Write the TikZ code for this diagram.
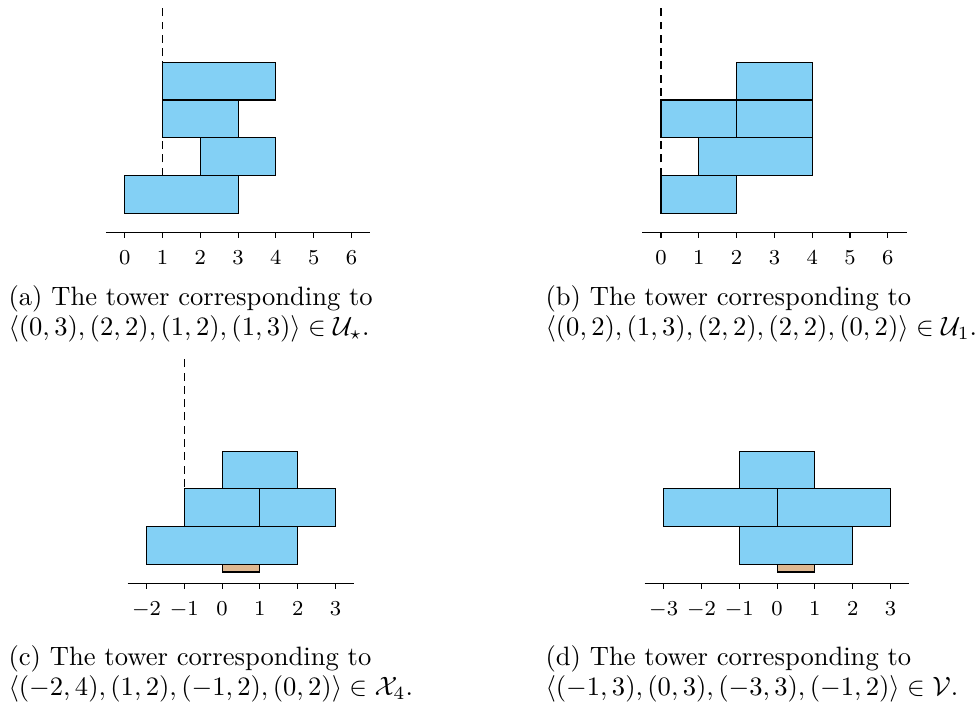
\documentclass[tikz,border=0pt]{standalone}
\usepackage{amsmath, amssymb}
\usepackage{xcolor}

\definecolor{towerblue}{RGB}{131,208,245}
\definecolor{towertan}{RGB}{222,184,146}

\begin{document}
\begin{tikzpicture}[
    block/.style={draw, fill=towerblue},
    baseblock/.style={draw, fill=towertan},
    ticklab/.style={anchor=base, font=\footnotesize},
    caption/.style={anchor=north west, align=left, inner sep=0pt}]
    \useasboundingbox (0,0) rectangle (12.923,9.352);

    % (a) tower in U_star
    \begin{scope}[shift={(1.649,6.279)}, x=0.5cm, y=0.5cm]
        % Axis
        \draw (-0.5,0) -- (6.5,0);
        \foreach \x in {0,...,6} {
            \draw (\x,0) -- (\x,-0.15);
            \node[ticklab] (a-\x) at (\x,-0.84) {$\x$};
        }
        % Dashed line
        \draw[densely dashed] (1,1.5) -- (1,6);
        % Blocks
        \foreach \l/\r/\h in {0/3/0, 2/4/1, 1/3/2, 1/4/3}
            \draw[block] (\l,\h+0.5) rectangle (\r,\h+1.5);
    \end{scope}

    % (b) tower in U_1
    \begin{scope}[shift={(8.743,6.279)}, x=0.5cm, y=0.5cm]
        % Axis
        \draw (-0.5,0) -- (6.5,0);
        \foreach \x in {0,...,6} {
            \draw (\x,0) -- (\x,-0.15);
            \node[ticklab] (b-\x) at (\x,-0.84) {$\x$};
        }
        % Dashed line
        \draw[densely dashed] (0,1.5) -- (0,6);
        % Blocks
        \foreach \l/\r/\h in {0/2/0, 1/4/1, 0/2/2, 2/4/2, 2/4/3}
            \draw[block] (\l,\h+0.5) rectangle (\r,\h+1.5);
    \end{scope}

    % (c) tower in X_4
    \begin{scope}[shift={(2.937,1.636)}, x=0.5cm, y=0.5cm]
        % Axis
        \draw (-2.5,0) -- (3.5,0);
        \foreach \x in {-2,...,3} {
            \draw (\x,0) -- (\x,-0.15);
            \node[ticklab] (c-\x) at (\x,-0.84) {$\x$};
        }
        % Dashed line
        \draw[densely dashed] (-1,1.5) -- (-1,6);
        % Base
        \draw[baseblock] (0,0.3) rectangle (1,0.5);
        % Blocks
        \foreach \l/\r/\h in {-2/2/0, -1/1/1, 1/3/1, 0/2/2}
            \draw[block] (\l,\h+0.5) rectangle (\r,\h+1.5);
    \end{scope}

    % (d) tower in V
    \begin{scope}[shift={(10.278,1.636)}, x=0.5cm, y=0.5cm]
        % Axis
        \draw (-3.5,0) -- (3.5,0);
        \foreach \x in {-3,...,3} {
            \draw (\x,0) -- (\x,-0.15);
            \node[ticklab] (d-\x) at (\x,-0.84) {$\x$};
        }
        % Base
        \draw[baseblock] (0,0.3) rectangle (1,0.5);
        % Blocks
        \foreach \l/\r/\h in {-1/2/0, -3/0/1, 0/3/1, -1/1/2}
            \draw[block] (\l,\h+0.5) rectangle (\r,\h+1.5);
    \end{scope}

    % Captions
    \node[caption] (capa) at (0.106,5.581)
        {(a) The tower corresponding to\\[-0.7pt]
         $\langle (0,3), (2,2), (1,2), (1,3) \rangle \in \mathcal{U}_\star$.};
    \node[caption] (capb) at (7.209,5.581)
        {(b) The tower corresponding to\\[-0.7pt]
         $\langle (0,2), (1,3), (2,2), (2,2), (0,2) \rangle \in \mathcal{U}_1$.};
    \node[caption] (capc) at (0.106,0.820)
        {(c) The tower corresponding to\\[-0.7pt]
         $\langle (-2,4), (1,2), (-1,2), (0,2) \rangle \in \mathcal{X}_4$.};
    \node[caption] (capd) at (7.209,0.820)
        {(d) The tower corresponding to\\[-0.7pt]
         $\langle (-1,3), (0,3), (-3,3), (-1,2) \rangle \in \mathcal{V}$.};
\end{tikzpicture}
\end{document}
